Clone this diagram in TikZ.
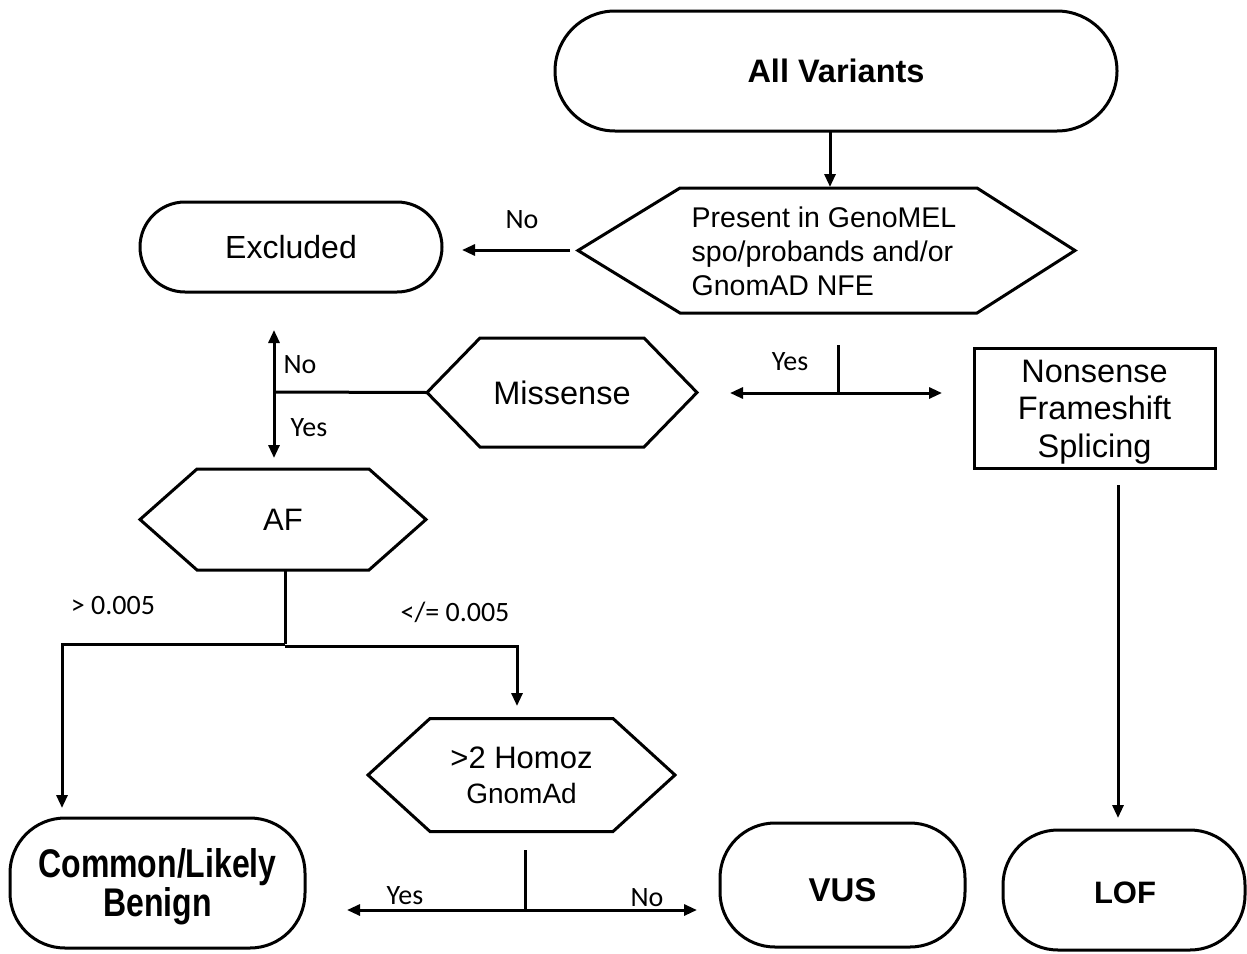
\documentclass[tikz,border=0pt]{standalone}
\usepackage{fontspec}
\setmainfont{Liberation Sans}
\newfontfamily\lab{Carlito}
\newfontfamily\condfont{Liberation Sans}[FakeStretch=0.8]
\usetikzlibrary{arrows.meta}
\newcommand{\hexa}[2]{\draw[line width=3pt,line join=miter] (#1.west) -- ([xshift=#2]#1.north west) -- ([xshift=-#2]#1.north east) -- (#1.east) -- ([xshift=-#2]#1.south east) -- ([xshift=#2]#1.south west) -- cycle;}
\tikzset{
  stad/.style={draw, line width=3pt, rounded corners=#1, inner sep=0pt, outer sep=0pt, align=center},
  hexn/.style={inner sep=0pt, outer sep=0pt, align=center},
  rectn/.style={draw, line width=3pt, inner sep=0pt, outer sep=0pt, align=center},
  txt/.style={inner sep=0pt, outer sep=0pt, align=center},
  conn/.style={line width=3pt},
  arr/.style={line width=3pt, -{Triangle[length=13pt,width=11pt]}},
  arrb/.style={line width=3pt, {Triangle[length=13pt,width=11pt]}-{Triangle[length=13pt,width=11pt]}},
  lbl/.style={font=\lab\fontsize{28}{32}\selectfont, inner sep=0pt},
}
\begin{document}
\begin{tikzpicture}[x=1pt,y=-1pt]
\useasboundingbox (0,0) rectangle (1247,953);

% nodes
\node[stad=60pt, minimum width=562pt, minimum height=120pt, font=\bfseries\fontsize{32.5}{36}\selectfont] (allv) at (836,71) {All Variants};
\node[hexn, minimum width=497pt, minimum height=125pt, align=left, font=\fontsize{28.5}{34}\selectfont] (pres) at (824,251) {Present in GenoMEL\\spo/probands and/or\\GnomAD NFE};
\draw[line width=3pt,line join=miter] (578,250.5) -- (680,188) -- (977,188) -- (1075,250.5) -- (977,313) -- (680,313) -- cycle;
\node[stad=45pt, minimum width=302pt, minimum height=90pt, font=\fontsize{32}{36}\selectfont] (excl) at (291,247) {Excluded};
\node[hexn, minimum width=270pt, minimum height=109pt, font=\fontsize{32.5}{36}\selectfont] (miss) at (562,392.5) {Missense};
\hexa{miss}{53}
\node[rectn, minimum width=241pt, minimum height=120pt] (nons) at (1094.5,408) {};
\node[txt, font=\fontsize{32.5}{37.5}\selectfont] (nonst) at (1094.5,412) {Nonsense\\Frameshift\\Splicing};
\node[hexn, minimum width=286pt, minimum height=101pt, font=\fontsize{31}{34}\selectfont] (af) at (283,519.5) {AF};
\hexa{af}{57}
\node[hexn, minimum width=307pt, minimum height=113pt, font=\fontsize{31}{35}\selectfont] (homoz) at (521.5,775) {>2 Homoz\\{\fontsize{28}{35}\selectfont GnomAd}};
\hexa{homoz}{62}
\node[stad=55pt, minimum width=295pt, minimum height=130pt] (common) at (157.5,883) {};
\node[txt, font=\condfont\bfseries\fontsize{40}{39}\selectfont] (commont) at (157.5,887) {Common/Likely\\Benign};
\node[stad=55pt, minimum width=245pt, minimum height=124pt] (vus) at (842.5,885) {};
\node[txt, font=\bfseries\fontsize{33}{36}\selectfont] (vust) at (842.5,890) {VUS};
\node[stad=55pt, minimum width=242pt, minimum height=120pt] (lof) at (1124,890) {};
\node[txt, font=\bfseries\fontsize{31}{36}\selectfont] (loft) at (1125,893) {LOF};

% junction coordinates
\coordinate (a1) at (830,131);
\coordinate (a2) at (830,187);
\coordinate (p1) at (570,250);
\coordinate (p2) at (462,250);
\coordinate (e1) at (274,330);
\coordinate (e2) at (274,458);
\coordinate (j1) at (274,392);
\coordinate (m0) at (838,345);
\coordinate (j2) at (838,393);
\coordinate (m1) at (730,393);
\coordinate (m2) at (942,393);
\coordinate (n1) at (1118,485);
\coordinate (n2) at (1118,818);
\coordinate (f0) at (285,644);
\coordinate (f1) at (62,644);
\coordinate (f2) at (62,808);
\coordinate (f3) at (517,646);
\coordinate (f4) at (517,706);
\coordinate (h0) at (525,850);
\coordinate (j3) at (525,910);
\coordinate (h1) at (347,910);
\coordinate (h2) at (697,910);

% connectors
\draw[arr] (allv.south -| a1) -- (a2);
\draw[arr] (p1) -- (p2);
\node[lbl] (lno1) at (522,220) {No};
\draw[arrb] (e1) -- (e2);
\draw[conn] (miss.west) -- (j1);
\node[lbl] (lno2) at (300,365) {No};
\node[lbl] (lyes1) at (309,428) {Yes};
\draw[conn] (m0) -- (j2);
\draw[arrb] (m1) -- (m2);
\node[lbl] (lyes2) at (790,362) {Yes};
\draw[arr] (n1) -- (n2);
\draw[conn] (af.south -| f0) -- (f0);
\draw[arr, line join=miter] (f0) -- (f1) -- (f2);
\draw[arr, line join=miter] (f0 |- f3) -- (f3) -- (f4);
\node[lbl] (lgt) at (113,606) {> 0.005};
\node[lbl] (lle) at (455,612) {</= 0.005};
\draw[conn] (h0) -- (j3);
\draw[arrb] (h1) -- (h2);
\node[lbl] (lyes3) at (405,896) {Yes};
\node[lbl] (lno3) at (647,898) {No};
\end{tikzpicture}
\end{document}
